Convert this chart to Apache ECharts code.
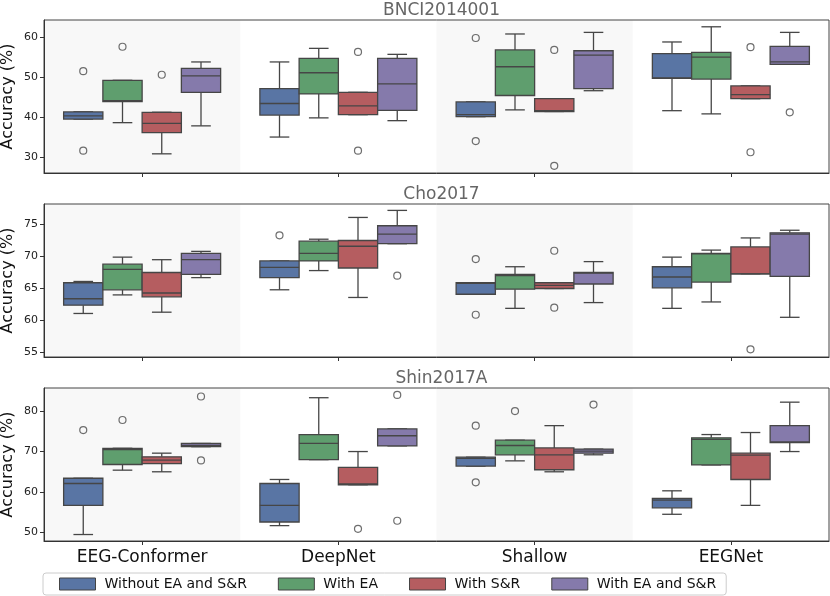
<!DOCTYPE html>
<html>
<head>
<meta charset="utf-8">
<script src="https://cdn.jsdelivr.net/npm/echarts@6/dist/echarts.min.js"></script>
<style>
    html, body { margin: 0; padding: 0; background: #fff; }
    #main { width: 830px; height: 596px; }
</style>
</head>
<body>
<div id="main"></div>
<script>
    // models on the x axis
    var models = ['EEG-Conformer', 'DeepNet', 'Shallow', 'EEGNet'];
    var methods = ['Without EA and S&R', 'With EA', 'With S&R', 'With EA and S&R'];
    var datasets = ['BNCI2014001', 'Cho2017', 'Shin2017A'];

    // each box: [min, q1, median, q3, max], order = model, then method
    var bnciBoxes = [
        [[39.5, 39.5, 40.3, 41.3, 41.3], [38.6, 43.9, 44.1, 49.2, 49.2], [30.8, 36.1, 38.4, 41.2, 41.2], [37.8, 46.2, 50.3, 52.2, 53.8]],
        [[35.0, 40.5, 43.4, 47.1, 53.8], [39.8, 45.8, 51.1, 54.7, 57.2], [40.6, 40.6, 42.8, 46.2, 46.2], [39.1, 41.7, 48.3, 54.7, 55.7]],
        [[40.1, 40.1, 40.6, 43.8, 43.8], [41.8, 45.4, 52.6, 56.8, 60.8], [41.4, 41.4, 41.6, 44.6, 44.6], [46.6, 47.1, 55.5, 56.6, 61.2]],
        [[41.6, 49.7, 49.8, 55.9, 58.8], [40.8, 49.5, 55.0, 56.2, 62.6], [44.6, 44.6, 45.6, 47.8, 47.8], [53.2, 53.2, 53.8, 57.7, 61.2]]
    ];
    var choBoxes = [
        [[61.1, 62.4, 63.4, 65.9, 66.1], [64.0, 64.8, 68.0, 68.8, 69.9], [61.3, 63.7, 64.3, 67.5, 69.5], [66.7, 67.2, 69.5, 70.5, 70.8]],
        [[64.8, 66.7, 68.3, 69.3, 69.3], [67.8, 69.3, 70.5, 72.4, 72.7], [63.6, 68.2, 71.6, 72.5, 76.1], [72.0, 72.0, 73.5, 74.8, 77.2]],
        [[64.1, 64.1, 65.8, 65.9, 65.9], [61.9, 64.9, 67.0, 67.2, 68.4], [65.0, 65.0, 65.5, 65.9, 65.9], [62.8, 65.7, 67.4, 67.5, 69.2]],
        [[61.9, 65.1, 66.8, 68.4, 69.9], [62.9, 66.0, 70.4, 70.5, 71.0], [67.3, 67.3, 67.3, 71.5, 72.9], [60.5, 66.9, 73.5, 73.7, 74.1]]
    ];
    var shinBoxes = [
        [[49.5, 56.7, 62.1, 63.4, 63.4], [65.4, 66.8, 70.5, 70.8, 70.8], [65.0, 67.0, 67.9, 68.7, 69.6], [71.2, 71.2, 71.5, 72.0, 72.0]],
        [[51.7, 52.6, 56.7, 62.1, 63.1], [68.0, 68.0, 72.0, 74.2, 83.3], [61.8, 61.8, 62.0, 66.1, 70.0], [71.4, 71.4, 73.9, 75.6, 75.6]],
        [[66.4, 66.4, 68.3, 68.6, 68.6], [67.7, 69.2, 71.5, 72.8, 72.8], [65.0, 65.5, 69.2, 70.9, 76.4], [69.2, 69.6, 70.1, 70.6, 70.6]],
        [[54.5, 56.1, 58.0, 58.4, 60.3], [66.7, 66.7, 73.0, 73.4, 74.2], [56.7, 63.1, 69.1, 69.6, 74.7], [70.0, 72.2, 72.4, 76.4, 82.2]]
    ];

    // outliers: [model index, method index, value]
    var bnciOutliers = [
        [0, 0, 51.5], [0, 0, 31.6], [0, 1, 57.6], [0, 2, 50.6],
        [1, 2, 56.3], [1, 2, 31.6],
        [2, 0, 59.8], [2, 0, 34.0], [2, 2, 56.8], [2, 2, 27.8],
        [3, 2, 57.5], [3, 2, 31.2], [3, 3, 41.2]
    ];
    var choOutliers = [
        [1, 0, 73.3], [1, 3, 67.0],
        [2, 0, 69.6], [2, 0, 60.9], [2, 2, 70.9], [2, 2, 62.0],
        [3, 2, 55.5]
    ];
    var shinOutliers = [
        [0, 0, 75.3], [0, 1, 77.8], [0, 3, 83.6], [0, 3, 67.8],
        [1, 2, 50.9], [1, 3, 84.0], [1, 3, 52.9],
        [2, 0, 76.4], [2, 0, 62.4], [2, 1, 80.0], [2, 3, 81.6]
    ];

    var yMin = [26, 54.3, 47.9];
    var yMax = [64.3, 78.2, 85.7];
    var yTicks = [[30, 40, 50, 60], [55, 60, 65, 70, 75], [50, 60, 70, 80]];

    var colors = ['#5975a4', '#5f9e6e', '#b55d60', '#857aab'];
    var lineColor = '#464646';
    var offsets = [-0.3, -0.1, 0.1, 0.3];
    var boxW = 0.2;

    var gridTops = [20, 204, 388];
    var gridH = 153;

    var allBoxes = [bnciBoxes, choBoxes, shinBoxes];
    var allOutliers = [bnciOutliers, choOutliers, shinOutliers];

    var myChart = echarts.init(document.getElementById('main'));

    function renderBox(params, api) {
        var x = api.value(0);
        var col = colors[api.value(6)];
        var left = api.coord([x - boxW / 2, 0])[0];
        var right = api.coord([x + boxW / 2, 0])[0];
        var cx = api.coord([x, 0])[0];
        var capL = api.coord([x - boxW / 4, 0])[0];
        var capR = api.coord([x + boxW / 4, 0])[0];
        var yMinP = api.coord([x, api.value(1)])[1];
        var yQ1 = api.coord([x, api.value(2)])[1];
        var yMed = api.coord([x, api.value(3)])[1];
        var yQ3 = api.coord([x, api.value(4)])[1];
        var yMaxP = api.coord([x, api.value(5)])[1];
        var ls = { stroke: lineColor, lineWidth: 1.3 };
        return {
            type: 'group',
            children: [
                { type: 'line', shape: { x1: cx, y1: yQ3, x2: cx, y2: yMaxP }, style: ls },
                { type: 'line', shape: { x1: cx, y1: yQ1, x2: cx, y2: yMinP }, style: ls },
                { type: 'line', shape: { x1: capL, y1: yMaxP, x2: capR, y2: yMaxP }, style: ls },
                { type: 'line', shape: { x1: capL, y1: yMinP, x2: capR, y2: yMinP }, style: ls },
                { type: 'rect', shape: { x: left, y: yQ3, width: right - left, height: yQ1 - yQ3 },
                    style: { fill: col, stroke: lineColor, lineWidth: 1.3 } },
                { type: 'line', shape: { x1: left, y1: yMed, x2: right, y2: yMed }, style: ls }
            ]
        };
    }

    function renderBand(params, api) {
        var cs = params.coordSys;
        var x0 = api.coord([api.value(0), 0])[0];
        var x1 = api.coord([api.value(1), 0])[0];
        return { type: 'rect', shape: { x: x0, y: cs.y, width: x1 - x0, height: cs.height },
            style: { fill: '#f8f8f8' } };
    }

    var grids = [], xAxes = [], yAxes = [], series = [], titles = [];
    for (var p = 0; p < 3; p++) {
        grids.push({
            left: 44, right: 1, top: gridTops[p], height: gridH,
            outerBoundsMode: 'none', containLabel: false,
            show: true, borderColor: '#444', borderWidth: 1, backgroundColor: 'transparent'
        });
        titles.push({
            text: datasets[p], left: 436.5, textAlign: 'center', top: gridTops[p] - 23,
            textStyle: { fontFamily: 'DejaVu Sans', fontSize: 17, fontWeight: 'normal', color: '#666' }
        });
        xAxes.push({
            type: 'category', gridIndex: p, data: models,
            axisLine: { show: true, onZero: false, lineStyle: { color: '#333', width: 1 } },
            axisTick: { show: true, alignWithLabel: true, length: 4, lineStyle: { color: '#333' } },
            axisLabel: { show: p === 2, fontFamily: 'DejaVu Sans', fontSize: 17, color: '#111', margin: 8 },
            splitLine: { show: false }
        });
        xAxes.push({
            type: 'value', gridIndex: p, min: -0.5, max: 3.5, show: false
        });
        yAxes.push({
            type: 'value', gridIndex: p, min: yMin[p], max: yMax[p],
            name: 'Accuracy (%)', nameLocation: 'middle', nameGap: 28, nameMoveOverlap: false,
            nameTextStyle: { fontFamily: 'DejaVu Sans', fontSize: 16, color: '#111' },
            axisLine: { show: true, onZero: false, lineStyle: { color: '#333', width: 1 } },
            axisTick: { show: true, length: 4, customValues: yTicks[p], lineStyle: { color: '#333' } },
            axisLabel: { customValues: yTicks[p], fontFamily: 'DejaVu Sans', fontSize: 11, color: '#222', margin: 6 },
            splitLine: { show: false }
        });

        series.push({
            type: 'custom', xAxisIndex: p * 2 + 1, yAxisIndex: p, z: -1, silent: true,
            renderItem: renderBand, data: [[-0.5, 0.5], [1.5, 2.5]]
        });

        var boxes = allBoxes[p];
        for (var m = 0; m < 4; m++) {
            var data = [];
            for (var g = 0; g < 4; g++) {
                var b = boxes[g][m];
                data.push([g + offsets[m], b[0], b[1], b[2], b[3], b[4], m]);
            }
            series.push({
                name: methods[m], type: 'custom', xAxisIndex: p * 2 + 1, yAxisIndex: p,
                renderItem: renderBox, itemStyle: { color: colors[m] },
                encode: { x: 0, y: [1, 5] }, data: data, z: 2
            });
        }

        var outs = allOutliers[p].map(function (o) {
            return [o[0] + offsets[o[1]], o[2]];
        });
        series.push({
            type: 'scatter', xAxisIndex: p * 2 + 1, yAxisIndex: p, data: outs,
            symbol: 'circle', symbolSize: 7, z: 3, silent: true,
            itemStyle: { color: 'transparent', borderColor: '#4a4a4a', borderWidth: 1.2 }
        });
    }

    var option = {
        animation: false,
        title: titles,
        grid: grids,
        xAxis: xAxes,
        yAxis: yAxes,
        legend: {
            bottom: 1, left: 43,
            data: methods.map(function (n, i) {
                return { name: n, icon: 'rect', itemStyle: { color: colors[i], borderColor: '#444', borderWidth: 1 } };
            }),
            itemWidth: 36, itemHeight: 12, itemGap: 31,
            textStyle: { fontFamily: 'DejaVu Sans', fontSize: 14, color: '#111', padding: [0, 0, 0, 4] },
            padding: [4, 10, 4, 16],
            borderColor: '#ccc', borderWidth: 1, borderRadius: 3
        },
        series: series
    };
    myChart.setOption(option);
</script>
</body>
</html>
